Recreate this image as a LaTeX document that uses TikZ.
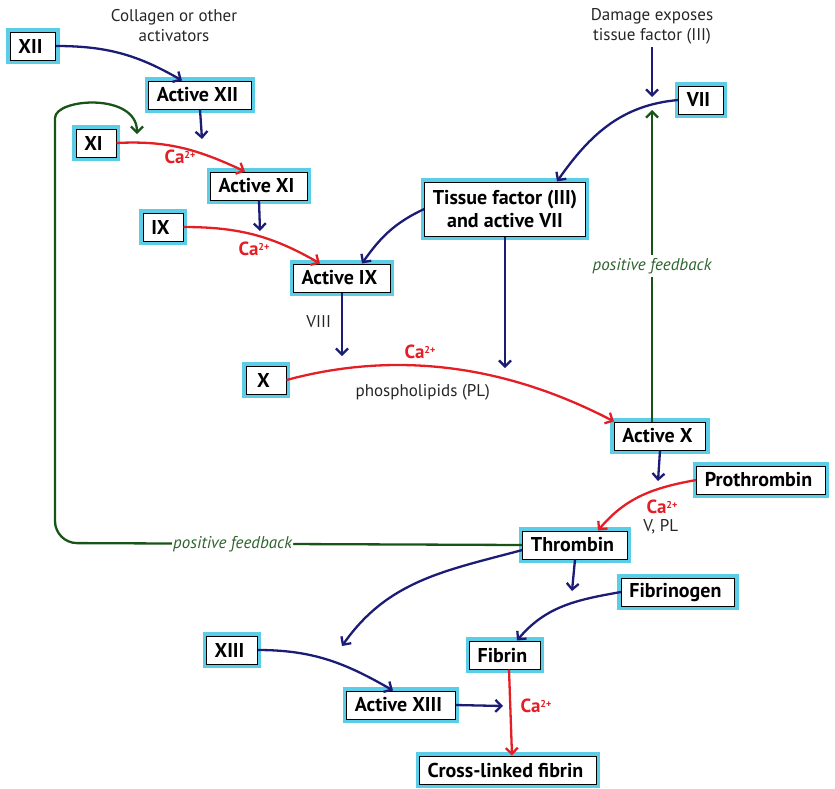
\documentclass[tikz,border=0pt]{standalone}
\usepackage{fontspec}
\setmainfont{PT Sans}
\usetikzlibrary{arrows.meta}

\definecolor{boxcyan}{RGB}{92,205,230}
\definecolor{pathblue}{RGB}{28,28,118}
\definecolor{pathred}{RGB}{228,30,36}
\definecolor{loopgreen}{RGB}{24,84,24}
\definecolor{fbtext}{RGB}{46,100,46}

\newcommand{\calc}{Ca\raisebox{0.55ex}{\fontsize{10}{10}\selectfont 2+}}

\tikzset{
  factor/.style={ preaction={draw=boxcyan, line width=8pt}, draw=black, line width=1pt,
    fill=white, font=\bfseries\fontsize{20}{23}\selectfont, minimum height=28pt,
    minimum width=40pt, inner xsep=8pt, inner ysep=2pt, align=center },
  note/.style={ font=\fontsize{17}{20}\selectfont, text=black!85, align=center },
  calcium/.style={ font=\bfseries\fontsize{19}{20}\selectfont, text=pathred },
  feedback/.style={ font=\itshape\fontsize{17}{20}\selectfont, text=fbtext, fill=white, inner xsep=1pt },
  bluearrow/.style={ draw=pathblue, line width=2.3pt, -{Straight Barb[length=6pt,width=12pt]} },
  redarrow/.style={ draw=pathred, line width=2.3pt, -{Straight Barb[length=6pt,width=12pt]} },
  greenarrow/.style={ draw=loopgreen, line width=2.3pt, -{Straight Barb[length=6pt,width=12pt]} }
}

\begin{document}
\begin{tikzpicture}[ x=1pt, y=-1pt ]
  \useasboundingbox (0,0) rectangle (835,788);

  % factors
  \node [ factor ] (xii) at (33,46) { XII };
  \node [ factor ] (actxii) at (200,95) { Active XII };
  \node [ factor ] (xi) at (96,143) { XI };
  \node [ factor ] (actxi) at (259,186) { Active XI };
  \node [ factor ] (ix) at (163,227) { IX };
  \node [ factor ] (actix) at (342,278) { Active IX };
  \node [ factor ] (x) at (266,380) { X };
  \node [ factor, minimum height=54pt ] (tissue) at (505,209) { Tissue factor (III)\\and active VII };
  \node [ factor ] (vii) at (701,100) { VII };
  \node [ factor ] (actx) at (660,436) { Active X };
  \node [ factor ] (prothr) at (761,480) { Prothrombin };
  \node [ factor ] (thromb) at (575,545) { Thrombin };
  \node [ factor ] (fibrinogen) at (678,592) { Fibrinogen };
  \node [ factor ] (xiii) at (232,650) { XIII };
  \node [ factor ] (fibrin) at (505,655) { Fibrin };
  \node [ factor ] (actxiii) at (401,705) { Active XIII };
  \node [ factor ] (crossfib) at (508,770) { Cross-linked fibrin };

  % notes
  \node [ note ] (collagen) at (174,26) { Collagen or other\\activators };
  \node [ note ] (damage) at (652,26) { Damage exposes\\tissue factor (III) };
  \node [ note ] (viii) at (321,322) { VIII };
  \node [ note ] (pl) at (425,392) { phospholipids (PL) };
  \node [ note ] (vpl) at (663,527) { V, PL };
  \node [ calcium ] (ca1) at (180,157) { \calc };
  \node [ calcium ] (ca2) at (254,249) { \calc };
  \node [ calcium ] (ca3) at (420,352) { \calc };
  \node [ calcium ] (ca4) at (662,507) { \calc };
  \node [ calcium ] (ca5) at (536,706) { \calc };

  % free ends
  \coordinate (onxi) at (202,139);
  \coordinate (onix) at (260,231);
  \coordinate (onx) at (342,356);
  \coordinate (onx2) at (505,368);
  \coordinate (onvii) at (652,97);
  \coordinate (onvii2) at (652,110);
  \coordinate (onpro) at (658,481);
  \coordinate (onfib) at (572,591);
  \coordinate (onxiii) at (342,646);
  \coordinate (onfib2) at (503,706);
  \coordinate (onxi2) at (137,134);

  % intrinsic
  \draw [ bluearrow ] (xii.east) to [ out=0, in=150 ] ([xshift=-18pt]actxii.north);
  \draw [ bluearrow ] (actxii.south) -- (onxi);
  \draw [ redarrow ] (xi.east) to [ out=3, in=155 ] ([xshift=-14pt]actxi.north);
  \draw [ bluearrow ] (actxi.south) -- (onix);
  \draw [ redarrow ] (ix.east) to [ out=0, in=150 ] ([xshift=-22pt]actix.north);
  \draw [ bluearrow ] (actix.south) -- (onx);
  \draw [ redarrow ] (x.east) .. controls (390,352) and (500,362) .. (actx.north west);

  % extrinsic
  \draw [ bluearrow ] (damage.south) -- (onvii);
  \draw [ bluearrow ] (vii.west) to [ out=185, in=55 ] ([xshift=52pt]tissue.north);
  \draw [ bluearrow ] (tissue.west) to [ out=205, in=55 ] ([xshift=20pt]actix.north);
  \draw [ bluearrow ] (tissue.south) -- (onx2);
  \draw [ greenarrow ] ([xshift=-8pt]actx.north) -- node [ feedback ] { positive feedback } (onvii2);

  % common
  \draw [ bluearrow ] (actx.south) -- (onpro);
  \draw [ redarrow ] (prothr.west) to [ out=190, in=50 ] ([xshift=23pt]thromb.north);
  \draw [ greenarrow, rounded corners=22pt ] (thromb.west) -- node [ feedback, pos=0.62 ] { positive feedback }
    (55,543) -- (55,140) to [ out=90, in=90, looseness=1.3 ] (onxi2);
  \draw [ bluearrow ] (thromb.south) -- (onfib);
  \draw [ bluearrow ] (fibrinogen.west) to [ out=190, in=50 ] ([xshift=12pt]fibrin.north);
  \draw [ bluearrow ] ([yshift=-5pt]thromb.west) to [ out=195, in=55 ] (onxiii);
  \draw [ bluearrow ] (xiii.east) to [ out=0, in=150 ] ([xshift=-8pt]actxiii.north);
  \draw [ bluearrow ] (actxiii.east) -- (onfib2);
  \draw [ redarrow ] ([xshift=4pt]fibrin.south) -- ([xshift=4pt]crossfib.north);
\end{tikzpicture}
\end{document}
